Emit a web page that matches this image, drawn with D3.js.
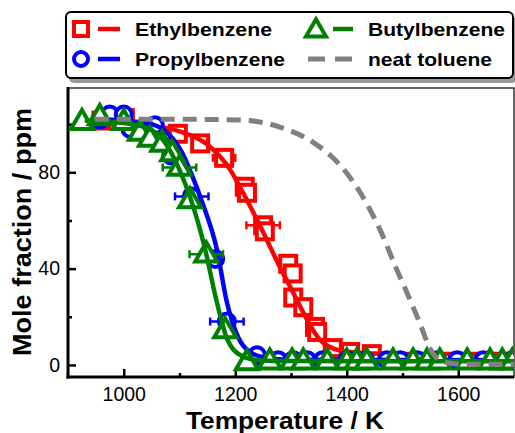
<!DOCTYPE html>
<html><head><meta charset="utf-8">
<script src="https://cdn.jsdelivr.net/npm/d3@7"></script>
<style>body{margin:0;background:#fff}svg{display:block}text{font-family:"Liberation Sans",Arial,sans-serif}</style>
</head><body><svg id="c" width="515" height="433"></svg>
<script>
// ---- data ----
const xTicks = [1000, 1200, 1400, 1600];
const xMinor = [1100, 1300, 1500];
const yTicks = [0, 40, 80];
const yMinor = [20, 60, 100];

const ethT = [960, 1002, 1097, 1137, 1180, 1217, 1221, 1250, 1253, 1295, 1303, 1304, 1322, 1343, 1347, 1375, 1406, 1445];
const ethV = [101.5, 102.5, 96, 92, 86, 74, 71.5, 58, 55.5, 42, 38, 28, 24, 15.8, 13.7, 7, 5.4, 4.5];
const ethErr = [0, 0, 0, 0, 20, 0, 0, 30, 0, 0, 0, 0, 0, 0, 0, 0, 0, 0];

const proT = [958, 975, 1000, 1012, 1056, 1085, 1122, 1164, 1185, 1239, 1277, 1304, 1329, 1357, 1401, 1433, 1472, 1496, 1526, 1562, 1598, 1645, 1697];
const proV = [102, 104, 104, 98, 99.5, 87, 70, 44, 18, 4, 2, 2, 2, 2, 2, 2, 2, 2, 2, 2, 2, 2, 2];
const proErr = [0, 0, 0, 0, 0, 0, 30, 0, 30, 0, 0, 0, 0, 0, 0, 0, 0, 0, 0, 0, 0, 0, 0];

const butT = [925, 957, 1000, 1029, 1047, 1069, 1087, 1100, 1119, 1148, 1182, 1221, 1262, 1302, 1322, 1365, 1400, 1418, 1436, 1483, 1519, 1544, 1567, 1616, 1657, 1679, 1697];
const butV = [101, 103, 101, 96.5, 94, 92, 88, 82, 68.5, 46, 14.5, 1.2, 1.5, 1.5, 1.5, 1.5, 1.5, 1.5, 1.5, 1.5, 1.5, 1.5, 1.5, 1.5, 1.5, 1.5, 1.5];
const butErr = [0, 0, 0, 0, 0, 0, 0, 30, 0, 30, 0, 0, 0, 0, 0, 0, 0, 0, 0, 0, 0, 0, 0, 0, 0, 0, 0];

const ethFitT = [945, 1000, 1050, 1100, 1150, 1191, 1214, 1244, 1280, 1304, 1329, 1352, 1388, 1430, 1465, 1550, 1700];
const ethFitV = [101.5, 101, 99.5, 97, 91.5, 81, 71.5, 58, 40.7, 30, 18.7, 10.4, 6, 5, 4.7, 4.5, 4.5];
const proFitT = [950, 1000, 1050, 1080, 1105, 1122, 1140, 1167, 1185, 1205, 1226, 1257, 1300, 1700];
const proFitV = [102, 101.5, 100, 96, 88, 79, 68, 48, 26, 11.6, 5.4, 2.9, 2.2, 2];
const butFitT = [930, 1000, 1040, 1065, 1083, 1100, 1120, 1146, 1165, 1185, 1210, 1240, 1300, 1700];
const butFitV = [101.5, 100.5, 98.5, 95, 89, 81, 69, 48, 28, 11, 4, 2, 1.6, 1.5];
const tolT = [948, 1100, 1208, 1280, 1339, 1388, 1429, 1460, 1490, 1508, 1531, 1549, 1573, 1609, 1700];
const tolV = [102, 102, 101.7, 98.8, 92.5, 83, 69.7, 56, 39.4, 30, 17.4, 7, 1.2, 0.3, 0.3];

const names = ["Ethylbenzene", "Butylbenzene", "Propylbenzene", "neat toluene"];

// ---- drawing ----
const svg = d3.select("#c");
const L = 68, R = 514, T = 88, B = 377;
const x = d3.scaleLinear().domain([900, 1700]).range([L, R]);
const y = d3.scaleLinear().domain([-5, 115]).range([B, T]);

svg.append("defs").append("clipPath").attr("id", "clip")
  .append("rect").attr("x", 0).attr("y", 0).attr("width", R).attr("height", B);

// legend box
const lg = svg.append("g");
lg.append("rect").attr("x", 69).attr("y", 17).attr("width", 448).attr("height", 66).attr("rx", 5).attr("fill", "#9a9a9a");
lg.append("rect").attr("x", 66).attr("y", 12).attr("width", 447).attr("height", 66).attr("rx", 5)
  .attr("fill", "#fff").attr("stroke", "#000").attr("stroke-width", 2);

// frame
svg.append("rect").attr("x", L).attr("y", T).attr("width", R - L).attr("height", B - T)
  .attr("fill", "#fff").attr("stroke", "#333").attr("stroke-width", 1.5);

// axes
const xAxis = d3.axisBottom(x).tickValues(xTicks).tickSize(-8).tickPadding(10).tickFormat(d3.format("d"));
const gx = svg.append("g").attr("transform", `translate(0,${B})`).call(xAxis);
const xAxisMinor = d3.axisBottom(x).tickValues(xMinor).tickSize(-4).tickFormat("");
const gxm = svg.append("g").attr("transform", `translate(0,${B})`).call(xAxisMinor);
const yAxis = d3.axisLeft(y).tickValues(yTicks).tickSize(-8).tickPadding(8);
const gy = svg.append("g").attr("transform", `translate(${L},0)`).call(yAxis);
const yAxisMinor = d3.axisLeft(y).tickValues(yMinor).tickSize(-4).tickFormat("");
const gym = svg.append("g").attr("transform", `translate(${L},0)`).call(yAxisMinor);
[gx, gxm, gy, gym].forEach(g => {
  g.select(".domain").remove();
  g.selectAll(".tick line").attr("stroke", "#000").attr("stroke-width", 2.5);
  g.selectAll("text").attr("font-size", 19.5).attr("fill", "#000");
});
svg.append("line").attr("x1", L).attr("x2", L).attr("y1", T - 1).attr("y2", B + 1.5).attr("stroke", "#000").attr("stroke-width", 3);
svg.append("line").attr("x1", L - 1.5).attr("x2", R).attr("y1", B).attr("y2", B).attr("stroke", "#000").attr("stroke-width", 3);

// titles
svg.append("text").attr("x", 285).attr("y", 429).attr("text-anchor", "middle")
  .attr("font-size", 24).attr("font-weight", "bold")
  .attr("textLength", 198).attr("lengthAdjust", "spacingAndGlyphs").text("Temperature / K");
svg.append("text").attr("transform", "translate(31,232) rotate(-90)").attr("text-anchor", "middle")
  .attr("font-size", 26).attr("font-weight", "bold")
  .attr("textLength", 248).attr("lengthAdjust", "spacingAndGlyphs").text("Mole fraction / ppm");

const plot = svg.append("g").attr("clip-path", "url(#clip)");
const line = d3.line().x(d => x(d[0])).y(d => y(d[1])).curve(d3.curveMonotoneX);

function marker(g, type, cx, cy, color, s, sw) {
  if (type === "square") {
    g.append("rect").attr("x", cx - s / 2).attr("y", cy - s / 2).attr("width", s).attr("height", s)
      .attr("fill", "#fff").attr("stroke", color).attr("stroke-width", sw);
  } else if (type === "circle") {
    g.append("circle").attr("cx", cx).attr("cy", cy).attr("r", s / 2)
      .attr("fill", "#fff").attr("stroke", color).attr("stroke-width", sw);
  } else {
    const h = s * Math.sqrt(3) / 2;
    g.append("path").attr("d", `M${cx},${cy - h * 0.62}L${cx + s / 2},${cy + h * 0.38}L${cx - s / 2},${cy + h * 0.38}Z`)
      .attr("fill", "#fff").attr("stroke", color).attr("stroke-width", sw).attr("stroke-linejoin", "miter");
  }
}

function series(Ts, Vs, Es, fT, fV, color, type, s) {
  const g = plot.append("g");
  Ts.forEach((t, i) => {
    if (Es[i] > 0) {
      const x0 = x(t - Es[i]), x1 = x(t + Es[i]), yy = y(Vs[i]);
      g.append("line").attr("x1", x0).attr("x2", x1).attr("y1", yy).attr("y2", yy).attr("stroke", color).attr("stroke-width", 2.5);
      [x0, x1].forEach(xx => g.append("line").attr("x1", xx).attr("x2", xx).attr("y1", yy - 4).attr("y2", yy + 4).attr("stroke", color).attr("stroke-width", 2.5));
    }
  });
  Ts.forEach((t, i) => marker(g, type, x(t), y(Vs[i]), color, s, 4));
  g.append("path").datum(fT.map((t, i) => [t, fV[i]])).attr("d", line)
    .attr("fill", "none").attr("stroke", color).attr("stroke-width", 4.5);
}

series(ethT, ethV, ethErr, ethFitT, ethFitV, "#ff0000", "square", 16);
series(proT, proV, proErr, proFitT, proFitV, "#0000ff", "circle", 16);
series(butT, butV, butErr, butFitT, butFitV, "#008000", "triangle", 22);
plot.append("path").datum(tolT.map((t, i) => [t, tolV[i]])).attr("d", line)
  .attr("fill", "none").attr("stroke", "#808080").attr("stroke-width", 5).attr("stroke-dasharray", "14,8");

// legend entries
const lgi = svg.append("g");
marker(lgi, "square", 81, 29, "#ff0000", 14, 4);
lgi.append("line").attr("x1", 98).attr("x2", 120).attr("y1", 29).attr("y2", 29).attr("stroke", "#ff0000").attr("stroke-width", 4.5);
marker(lgi, "circle", 81, 59, "#0000ff", 14, 4);
lgi.append("line").attr("x1", 98).attr("x2", 120).attr("y1", 59).attr("y2", 59).attr("stroke", "#0000ff").attr("stroke-width", 4.5);
marker(lgi, "triangle", 316, 30, "#008000", 20, 4);
lgi.append("line").attr("x1", 333).attr("x2", 353).attr("y1", 29).attr("y2", 29).attr("stroke", "#008000").attr("stroke-width", 4.5);
lgi.append("line").attr("x1", 308).attr("x2", 352).attr("y1", 59).attr("y2", 59).attr("stroke", "#808080").attr("stroke-width", 5).attr("stroke-dasharray", "17,10");
const lgText = [[135, 36, names[0], 137], [368, 36, names[1], 137], [135, 66, names[2], 150], [368, 66, names[3], 124]];
lgText.forEach(d => lgi.append("text").attr("x", d[0]).attr("y", d[1]).attr("font-size", 19)
  .attr("font-weight", "bold").attr("textLength", d[3]).attr("lengthAdjust", "spacingAndGlyphs").text(d[2]));
</script></body></html>
